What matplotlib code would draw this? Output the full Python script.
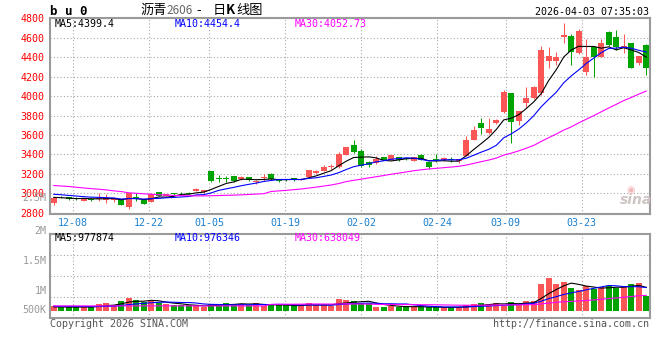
import numpy as np
import pandas as pd
import matplotlib
matplotlib.use("Agg")
import matplotlib.pyplot as plt

# bu0 daily K-line, 2025-12-03 .. 2026-04-03 (last bar = 04-02 night session)
open_ = [2905, 2962, 2962, 2955, 2925, 2940, 2940, 2935, 2930, 2938,
         2862, 2955, 2930, 2915, 3012, 2975, 2995, 3003, 3003, 3028,
         3015, 3225, 3160, 3158, 3178, 3145, 3165, 3118, 3160, 3198,
         3135, 3140, 3150, 3142, 3170, 3208, 3232, 3270, 3267, 3395,
         3497, 3430, 3325, 3315, 3370, 3342, 3370, 3356, 3335, 3395,
         3320, 3350, 3338, 3352, 3328, 3388, 3550, 3720, 3618, 3720,
         3840, 4028, 3740, 3932, 3978, 4035, 4365, 4360, 4605, 4620,
         4440, 4250, 4500, 4405, 4660, 4610, 4492, 4545, 4345, 4525]
high = [2962, 2972, 2966, 2965, 2948, 2955, 3000, 2995, 2965, 2945,
        3008, 3000, 2935, 3000, 3015, 2995, 3005, 3010, 3012, 3050,
        3035, 3232, 3185, 3178, 3182, 3180, 3170, 3140, 3195, 3205,
        3140, 3145, 3160, 3160, 3242, 3240, 3290, 3300, 3422, 3475,
        3550, 3452, 3335, 3385, 3375, 3395, 3375, 3365, 3375, 3400,
        3325, 3405, 3370, 3375, 3355, 3590, 3695, 3772, 3770, 3760,
        4060, 4035, 3850, 4095, 4100, 4510, 4508, 4455, 4755, 4640,
        4695, 4590, 4505, 4590, 4665, 4680, 4640, 4550, 4415, 4540]
low = [2882, 2950, 2935, 2935, 2918, 2925, 2925, 2905, 2915, 2875,
       2840, 2925, 2888, 2908, 2970, 2968, 2980, 2988, 2990, 3022,
       3005, 3112, 3120, 3120, 3118, 3140, 3128, 3100, 3130, 3140,
       3115, 3125, 3130, 3135, 3165, 3200, 3228, 3255, 3262, 3390,
       3410, 3275, 3275, 3305, 3338, 3338, 3330, 3340, 3330, 3340,
       3248, 3320, 3330, 3320, 3308, 3385, 3545, 3615, 3612, 3715,
       3828, 3515, 3700, 3890, 3970, 4010, 4285, 4320, 4550, 4320,
       4430, 4215, 4200, 4400, 4515, 4470, 4440, 4285, 4320, 4220]
close = [2955, 2958, 2940, 2945, 2940, 2935, 2952, 2950, 2950, 2882,
         3003, 2948, 2895, 2990, 2975, 2993, 2990, 2998, 2997, 3045,
         3030, 3130, 3152, 3150, 3122, 3165, 3132, 3128, 3165, 3148,
         3128, 3133, 3144, 3152, 3238, 3230, 3270, 3275, 3405, 3472,
         3420, 3285, 3292, 3350, 3345, 3392, 3338, 3350, 3370, 3345,
         3270, 3328, 3362, 3346, 3348, 3548, 3650, 3668, 3660, 3752,
         4045, 3738, 3846, 3978, 4095, 4473, 4412, 4398, 4630, 4456,
         4668, 4398, 4400, 4542, 4525, 4508, 4512, 4285, 4412, 4285]
# volume, thousand lots
vol_k = [182, 154, 140, 154, 140, 168, 280, 329, 238, 413,
         539, 448, 350, 420, 322, 259, 224, 217, 217, 217,
         140, 280, 280, 329, 280, 280, 217, 329, 203, 224,
         224, 224, 196, 217, 336, 224, 224, 210, 490, 458,
         406, 308, 308, 140, 140, 210, 140, 210, 140, 140,
         140, 140, 140, 140, 140, 238, 280, 322, 280, 322,
         210, 364, 280, 406, 406, 1120, 1372, 1120, 1204, 966,
         854, 1022, 910, 994, 1022, 966, 1036, 1120, 1162, 616]

# moving-average values before a full window exists
ma5_head = [2958, 2955, 2950, 2945]
ma10_head = [2990, 2985, 2978, 2972, 2965, 2960, 2958, 2955, 2952]
ma30_head = [3080, 3075, 3070, 3062, 3055, 3048, 3042, 3035, 3025, 3018,
             3005, 3000, 2995, 2990, 2985, 2982, 2978, 2976, 2974, 2973,
             2973, 2975, 2977, 2979, 2981, 2984, 2988, 2992, 2996]
vma5_head = [160, 155, 150, 150]
vma10_head = [185, 182, 180, 178, 175, 172, 175, 180, 185]
vma30_head = [200] * 29

date_idx = [3, 13, 21, 31, 41, 51, 60, 70]
date_lbl = ["12-08", "12-22", "01-05", "01-19", "02-02", "02-24", "03-09", "03-23"]
price_ticks = [2800, 3000, 3200, 3400, 3600, 3800, 4000, 4200, 4400, 4600, 4800]
vol_lbl = ["2.5M", "2M", "1.5M", "1M", "500K"]
ma_lbl = ["MA5:4399.4", "MA10:4454.4", "MA30:4052.73"]
vma_lbl = ["MA5:977874", "MA10:976346", "MA30:638049"]

RED, GREEN = "#fa5656", "#00a400"
MA_COL = ["#000000", "#0000ff", "#ff00ff"]
MONO = "DejaVu Sans Mono"
CJK = ["Noto Sans CJK SC", "DejaVu Sans"]
W, H = 660, 360


def ma(vals, n, head):
    s = pd.Series(vals, dtype=float).rolling(n).mean().values
    s[:n - 1] = head
    return s


def rect(x0, y0, x1, y1):
    return [x0 / W, 1 - y1 / H, (x1 - x0) / W, (y1 - y0) / H]


def ftext(x, y, s, **kw):
    kw.setdefault("family", MONO)
    kw.setdefault("fontsize", 7.2)
    fig.text(x / W, 1 - y / H, s, va="center", **kw)


o, h, l, c = map(np.array, (open_, high, low, close))
n = len(c)
x = np.arange(n)
cols = np.where(c >= o, RED, GREEN)
# Sina lays the date grid on one slot fewer than the bars
grid_x = [i * n / (n - 1) - 0.5 for i in date_idx]

fig = plt.figure(figsize=(6.6, 3.6), dpi=100)
ax = fig.add_axes(rect(50, 18.3, 650, 214))
axv = fig.add_axes(rect(50, 234.3, 650, 318))

grid_kw = dict(color="#a8a8a8", lw=0.8, ls=(0, (1, 2)))

# price panel
ax.vlines(x, l, h, colors=cols, lw=0.75, zorder=2)
ax.bar(x, np.maximum(np.abs(c - o), 9), bottom=np.minimum(o, c), width=0.74,
       color=cols, lw=0, zorder=2)
for nwin, head, col in zip([5, 10, 30], [ma5_head, ma10_head, ma30_head], MA_COL):
    ax.plot(x, ma(c, nwin, head), color=col, lw=0.8, zorder=3)
ax.set_xlim(-0.5, n - 0.5)
ax.set_ylim(2787, 4800)
ax.set_yticks(price_ticks, [str(v) for v in price_ticks])
ax.set_xticks(grid_x, date_lbl)
ax.tick_params(axis="y", length=0, pad=4, labelcolor="#ff0000", labelsize=7.2)
ax.tick_params(axis="x", length=0, pad=3, labelcolor="#1a80d0", labelsize=7.2)
for t in ax.get_xticklabels() + ax.get_yticklabels():
    t.set_family(MONO)
ax.grid(True, **grid_kw)

# volume panel
axv.bar(x, vol_k, width=0.74, color=cols, lw=0, zorder=2)
for nwin, head, col in zip([5, 10, 30], [vma5_head, vma10_head, vma30_head], MA_COL):
    axv.plot(x, ma(vol_k, nwin, head), color=col, lw=0.8, zorder=3)
axv.set_xlim(-0.5, n - 0.5)
axv.set_ylim(-308, 3207)
axv.set_yticks(np.linspace(-308, 3207, 5)[1:4])
axv.set_xticks(grid_x)
axv.tick_params(length=0, labelleft=False, labelbottom=False)
axv.grid(True, **grid_kw)

for a in (ax, axv):
    for s in a.spines.values():
        s.set_color("#9a9a9a")
        s.set_linewidth(1.5)

# header texts
ftext(50, 11.5, "b u 0", fontweight="bold", fontsize=9)
title_parts = [("沥青", 140, "#000000", 9.5), ("2606", 166, "#666666", 8.5),
               ("-", 196, "#000000", 9.5), ("日", 213, "#000000", 9.5),
               ("K", 226, "#000000", 9.5), ("线图", 236, "#000000", 9.5)]
for s, xp, col, fs in title_parts:
    fig.text(xp / W, 1 - 10.5 / H, s, va="center", color=col, family=CJK,
             fontsize=fs, fontweight="bold" if s == "K" else "normal")
ftext(649, 12.3, "2026-04-03 07:35:03", ha="right")

for s, xp, col in zip(ma_lbl, [55, 175, 295], MA_COL):
    ftext(xp, 24, s, color=col)
for s, xp, col in zip(vma_lbl, [55, 175, 295], MA_COL):
    ftext(xp, 238.3, s, color=col)
for s, yp in zip(vol_lbl, [198, 231, 261, 291, 310]):
    ftext(46.5, yp, s, ha="right", color="#999999")

ftext(50, 324, "Copyright 2026 SINA.COM", color="#555555")
ftext(649, 324, "http://finance.sina.com.cn", ha="right", color="#555555")
fig.text(636 / W, 1 - 200 / H, "sina", ha="center", va="center", fontsize=10,
         fontweight="bold", fontstyle="italic", color="#cfc4c4")
fig.text(631 / W, 1 - 190 / H, "◉", ha="center", va="center", fontsize=7,
         color="#f0b8b8")

fig.savefig("out.png", dpi=100)
